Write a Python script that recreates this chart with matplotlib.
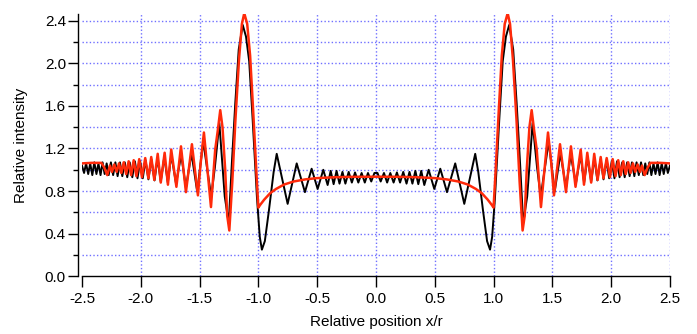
import numpy as np
import matplotlib
matplotlib.use('Agg')
import matplotlib.pyplot as plt
from matplotlib.ticker import MultipleLocator, FormatStrFormatter

plt.rcParams['font.family'] = ['Liberation Sans', 'DejaVu Sans']

# ---------------------------------------------------------------
# data (x >= 0 half, curves are symmetric)
# ---------------------------------------------------------------
red_x = [0.0, 0.2, 0.35, 0.5, 0.6, 0.7, 0.78, 0.85, 0.9, 0.95, 0.985, 1.0,
         1.015, 1.045, 1.07, 1.095, 1.12, 1.14, 1.165, 1.195, 1.222, 1.247,
         1.265, 1.282, 1.305, 1.324, 1.345, 1.367, 1.403, 1.43, 1.463, 1.49,
         1.514, 1.565, 1.616, 1.658, 1.697, 1.741, 1.769, 1.797, 1.83, 1.856,
         1.885, 1.911, 1.935, 1.962, 1.99, 2.013, 2.037, 2.06, 2.082, 2.103,
         2.124, 2.145, 2.165, 2.185, 2.205, 2.225, 2.245, 2.262, 2.285, 2.31,
         2.335, 2.42, 2.5]
red_y = [0.935, 0.934, 0.93, 0.922, 0.91, 0.89, 0.862, 0.82, 0.78, 0.72, 0.67, 0.645,
         0.94, 1.57, 2.07, 2.37, 2.47, 2.37, 2.03, 1.47, 0.88, 0.43,
         0.57, 1.0, 1.40, 1.56, 1.37, 1.19, 0.65, 0.97, 1.35, 1.07,
         0.76, 1.24, 0.79, 1.22, 0.84, 1.19, 0.86, 1.16, 0.88, 1.15,
         0.905, 1.12, 0.92, 1.11, 0.93, 1.10, 0.94, 1.09, 0.95, 1.08,
         0.96, 1.07, 0.97, 1.06, 0.98, 1.05, 0.98, 1.04, 0.95, 1.02,
         1.065, 1.065, 1.06]

black_x = [0.013, 0.04, 0.068, 0.095, 0.122, 0.15, 0.178, 0.205, 0.232, 0.26,
           0.285, 0.31, 0.335, 0.36, 0.385, 0.411, 0.448, 0.496, 0.547, 0.604,
           0.674, 0.751, 0.844, 0.87, 0.91, 0.945, 0.97, 0.988, 1.012, 1.05,
           1.078, 1.105, 1.133, 1.167, 1.196, 1.224, 1.252, 1.286, 1.332, 1.37,
           1.401, 1.469, 1.52, 1.569, 1.616, 1.656, 1.7, 1.74, 1.77, 1.80,
           1.83, 1.857, 1.883, 1.91, 1.935, 1.96, 1.983, 2.005, 2.028, 2.05,
           2.072, 2.094, 2.115, 2.136, 2.157, 2.177, 2.197, 2.216, 2.235, 2.254,
           2.273, 2.29, 2.307, 2.325, 2.342, 2.36, 2.377, 2.395, 2.412, 2.43,
           2.447, 2.465, 2.482, 2.5]
black_y = [0.97, 0.89, 0.97, 0.88, 0.97, 0.88, 0.975, 0.88, 0.98, 0.87,
           0.98, 0.87, 0.99, 0.865, 0.99, 0.857, 1.0, 0.82, 1.01, 0.79,
           1.06, 0.68, 1.15, 0.98, 0.62, 0.33, 0.25, 0.37, 0.74, 1.50,
           2.02, 2.25, 2.36, 2.13, 1.63, 1.09, 0.50, 0.75, 1.44, 1.02,
           0.75, 1.265, 0.795, 1.155, 0.83, 1.14, 0.87, 1.14, 0.88, 1.12,
           0.89, 1.11, 0.90, 1.10, 0.91, 1.09, 0.92, 1.08, 0.92, 1.08,
           0.93, 1.07, 0.93, 1.07, 0.94, 1.07, 0.94, 1.07, 0.95, 1.07,
           0.95, 1.06, 0.96, 1.07, 0.95, 1.06, 0.96, 1.07, 0.95, 1.06,
           0.96, 1.06, 0.97, 1.04]

x_ticks = [-2.5, -2.0, -1.5, -1.0, -0.5, 0.0, 0.5, 1.0, 1.5, 2.0, 2.5]
y_ticks = [0.0, 0.4, 0.8, 1.2, 1.6, 2.0, 2.4]

# full curves (mirror the read half)
rx = np.concatenate([-np.array(red_x[1:])[::-1], red_x])
ry = np.concatenate([np.array(red_y[1:])[::-1], red_y])
bx = np.concatenate([-np.array(black_x)[::-1], black_x])
by = np.concatenate([np.array(black_y)[::-1], black_y])

fig = plt.figure(figsize=(6.97, 3.34), dpi=100)
ax = fig.add_axes([0.1176, 0.1728, 0.8436, 0.7844])

grid_kw = dict(color='#7070ff', linestyle=(0, (1, 1.6)), linewidth=1.0, zorder=0)
for xv in x_ticks[1:]:
    ax.axvline(xv, **grid_kw)
for yv in np.arange(1, 13) * 0.2:
    ax.axhline(yv, **grid_kw)

ax.plot(bx, by, color='black', lw=1.4, zorder=2)
ax.plot(rx, ry, color='#ff2a0a', lw=1.8, zorder=3)

ax.set_xlim(-2.5, 2.5)
ax.set_ylim(0, 2.46)
ax.set_xticks(x_ticks)
ax.set_yticks(y_ticks)
ax.yaxis.set_minor_locator(MultipleLocator(0.2))
ax.xaxis.set_major_formatter(FormatStrFormatter('%.1f'))
ax.yaxis.set_major_formatter(FormatStrFormatter('%.1f'))

for s in ['top', 'right']:
    ax.spines[s].set_visible(False)
ax.spines['left'].set_position(('outward', 2.5))
ax.spines['left'].set_linewidth(1.0)
ax.spines['bottom'].set_linewidth(1.0)

ax.tick_params(axis='x', direction='out', length=8, width=1, labelsize=11, pad=3)
ax.tick_params(axis='y', which='major', direction='out', length=7, width=1, labelsize=11, pad=2)
ax.tick_params(axis='y', which='minor', direction='out', length=3.6, width=1)

ax.set_xlabel('Relative position x/r', fontsize=11, labelpad=7)
ax.set_ylabel('Relative intensity', fontsize=11, labelpad=12)

fig.savefig('out.png', dpi=100)
